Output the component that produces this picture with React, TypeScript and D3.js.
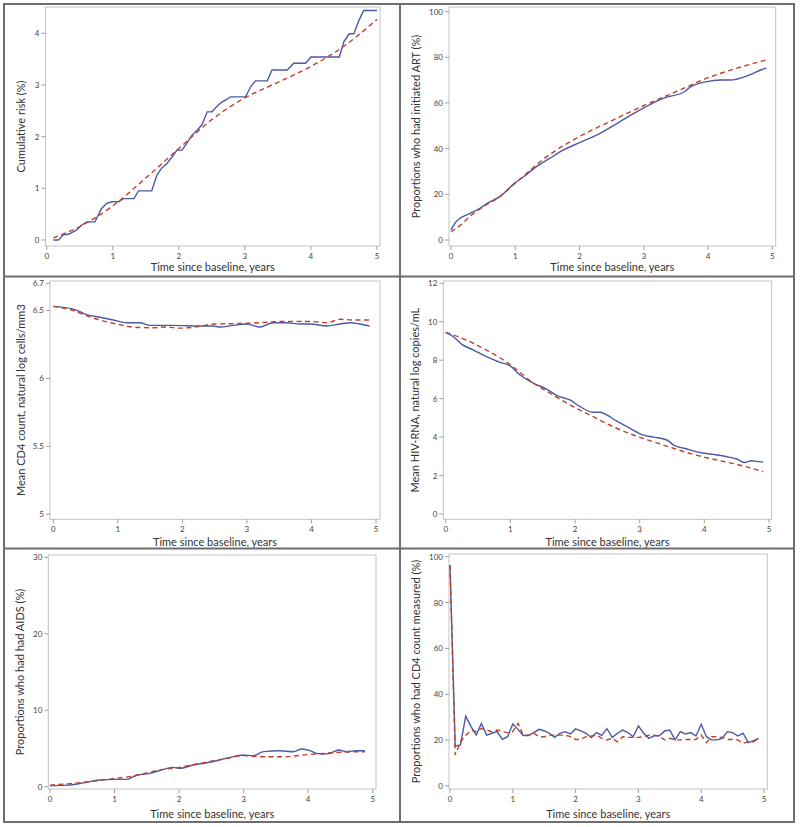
import React from "react";
import * as d3 from "d3";

// ---------- DATA ----------
const xTicks = [0, 1, 2, 3, 4, 5];
const xLabel = "Time since baseline, years";

// Panel 1: cumulative risk
const riskTimeObs = [0.1,0.18,0.25,0.33,0.45,0.53,0.61,0.73,0.83,0.91,0.99,1.09,1.16,1.32,1.39,1.59,1.67,1.74,1.82,1.9,1.97,2.05,2.12,2.2,2.28,2.35,2.43,2.5,2.55,2.63,2.71,2.78,3.01,3.09,3.16,3.34,3.41,3.64,3.74,3.92,4.0,4.43,4.5,4.58,4.65,4.73,4.8,5.0];
const riskObs = [0,0,0.1,0.11,0.19,0.29,0.35,0.35,0.61,0.71,0.74,0.74,0.8,0.8,0.95,0.95,1.26,1.39,1.48,1.61,1.74,1.74,1.87,2.03,2.13,2.23,2.48,2.48,2.55,2.65,2.71,2.77,2.77,2.97,3.08,3.08,3.29,3.29,3.42,3.42,3.54,3.54,3.84,3.99,3.99,4.26,4.44,4.44];
const riskTimeSim = [0.1,0.5,1,1.5,2,2.5,3,3.5,4,4.5,5];
const riskSim = [0.04,0.26,0.66,1.2,1.77,2.33,2.75,3.05,3.36,3.75,4.27];
const riskTicks = [0, 1, 2, 3, 4];

// Panel 2: initiated ART
const artTimeObs = [0,0.06,0.14,0.3,0.45,0.61,0.76,1.0,1.13,1.33,1.54,1.75,2.0,2.32,2.63,2.94,3.3,3.64,3.72,3.98,4.19,4.34,4.65,4.83,4.91];
const artObs = [4.4,7.3,9.5,11.7,13.9,16.8,19,25.1,27.7,32.1,35.8,39.4,42.6,46.7,51.8,56.9,62,65,66.9,69.3,70,70,72.3,74.5,75.2];
const artTimeSim = [0,0.15,0.3,0.5,0.76,1.0,1.49,2.0,2.53,3.02,3.51,3.98,4.45,4.91];
const artSim = [3.6,6.5,10.5,14.5,19,24.8,36.5,45.3,52.6,59.1,65,70.8,75.2,78.8];
const artTicks = [0, 20, 40, 60, 80, 100];

// Panel 3: mean CD4
const cd4TimeObs = [0,0.31,0.52,0.72,0.93,1.14,1.34,1.5,1.86,2.27,2.48,2.58,2.79,3.0,3.2,3.41,3.62,3.82,3.98,4.24,4.44,4.6,4.75,4.9];
const cd4Obs = [6.53,6.51,6.47,6.45,6.43,6.41,6.41,6.39,6.39,6.386,6.386,6.378,6.39,6.4,6.378,6.41,6.41,6.4,6.4,6.386,6.4,6.41,6.4,6.386];
const cd4TimeSim = [0,0.31,0.52,0.72,0.98,1.24,1.5,1.76,1.96,2.27,2.48,2.79,3.2,3.62,4.03,4.24,4.44,4.65,4.9];
const cd4Sim = [6.53,6.5,6.46,6.43,6.4,6.378,6.373,6.378,6.37,6.383,6.4,6.403,6.41,6.42,6.418,6.41,6.435,6.43,6.43];
const cd4Ticks = [5, 5.5, 6, 6.5, 6.7];

// Panel 4: mean HIV-RNA
const rnaTimeObs = [0,0.12,0.25,0.43,0.63,0.84,0.99,1.15,1.36,1.56,1.72,1.92,2.08,2.28,2.39,2.49,2.64,2.85,3.06,3.21,3.42,3.52,3.73,3.93,4.14,4.35,4.5,4.62,4.73,4.81,4.91];
const rnaObs = [9.45,9.22,8.82,8.53,8.18,7.89,7.72,7.23,6.8,6.5,6.16,5.93,5.58,5.29,5.29,5.15,4.84,4.46,4.1,4.0,3.85,3.6,3.38,3.2,3.1,2.98,2.86,2.68,2.77,2.74,2.7];
const rnaTimeSim = [0,0.32,0.63,0.99,1.36,1.66,1.97,2.28,2.59,2.9,3.21,3.52,3.83,4.14,4.45,4.71,4.91];
const rnaSim = [9.45,9.05,8.53,7.79,6.8,6.19,5.58,5.06,4.54,4.11,3.76,3.42,3.1,2.85,2.62,2.4,2.2];
const rnaTicks = [0, 2, 4, 6, 8, 10, 12];

// Panel 5: AIDS
const aidsTimeObs = [0,0.26,0.52,0.77,0.98,1.19,1.34,1.55,1.76,1.91,2.01,2.22,2.43,2.58,2.79,3.0,3.15,3.31,3.56,3.77,3.9,4.03,4.13,4.24,4.34,4.47,4.6,4.75,4.88];
const aidsObs = [0.13,0.2,0.5,0.87,0.96,0.96,1.5,1.74,2.27,2.53,2.4,2.83,3.14,3.4,3.84,4.14,4.06,4.58,4.71,4.58,4.93,4.71,4.36,4.27,4.36,4.8,4.58,4.71,4.71];
const aidsTimeSim = [0,0.52,0.98,1.29,1.7,2.01,2.32,2.74,3.0,3.26,3.62,3.98,4.24,4.39,4.6,4.88];
const aidsSim = [0.2,0.57,1.05,1.4,2.18,2.53,3.05,3.7,4.06,3.92,3.92,4.19,4.36,4.45,4.54,4.58];
const aidsTicks = [0, 10, 20, 30];

// Panel 6: CD4 measured (monthly, t = month / 12)
const measMonths = d3.range(0, 60);
const measObs = [96.4,17.4,17.9,30.5,26,22.2,27.3,22.2,23,23.7,20.3,21.5,27,24.7,22,22,23.3,24.7,24.1,23,21.2,23,23.7,22.7,24.9,24,23,21.1,23.3,22.1,25,21.2,23,24.4,23.3,21.5,26.2,23,20.8,21.9,21.9,24,24.4,20.1,23.7,22.7,23.3,21.8,26.9,21.5,20.1,20.1,20.8,23.7,23.3,21.8,23,18.9,19.8,20.8];
const measSim = [96.4,13.5,19.3,22,24.4,23.7,25.1,24.4,23.7,24.4,23.7,23.3,23.7,27.3,22.2,22.2,23,21.5,21.5,22.1,22.2,22.2,22.2,21.5,20.3,20.3,21.5,21.8,22.2,20.8,20.1,20.8,19.3,21.5,21.2,21.2,21.2,21.5,22.2,22.2,21.8,20.1,20.8,20.1,20.1,20.3,20.3,20.3,22.2,18.9,21.5,21.5,21.2,20.3,20.3,20.1,18.6,19.3,19.3,20.8];
const measTicks = [0, 20, 40, 60, 80, 100];

// ---------- LAYOUT ----------
type Series = { t: number[]; v: number[] };
type PanelSpec = {
  frame: [number, number, number, number];
  x0: number; x5: number;
  yDom: [number, number]; yRng: [number, number];
  yTicks: number[]; yLabel: string; yLabelX: number; xLabelY: number;
  obs: Series; sim: Series; obsCurve?: any; simCurve?: any;
};

const panels: PanelSpec[] = [
  { frame: [45.5, 7, 380, 246], x0: 46.7, x5: 377, yDom: [0, 4], yRng: [240, 33.3], yTicks: riskTicks,
    yLabel: "Cumulative risk (%)", yLabelX: 21.5, xLabelY: 271,
    obs: { t: riskTimeObs, v: riskObs }, sim: { t: riskTimeSim, v: riskSim }, obsCurve: d3.curveLinear },
  { frame: [449, 7, 775.7, 246], x0: 451, x5: 772.3, yDom: [0, 100], yRng: [240, 11.5], yTicks: artTicks,
    yLabel: "Proportions who had initiated ART (%)", yLabelX: 416.5, xLabelY: 271,
    obs: { t: artTimeObs, v: artObs }, sim: { t: artTimeSim, v: artSim } },
  { frame: [50, 281, 380, 519.3], x0: 53.3, x5: 376, yDom: [5, 6.7], yRng: [514.3, 283.3], yTicks: cd4Ticks,
    yLabel: "Mean CD4 count, natural log cells/mm3", yLabelX: 21.5, xLabelY: 545.5,
    obs: { t: cd4TimeObs, v: cd4Obs }, sim: { t: cd4TimeSim, v: cd4Sim } },
  { frame: [443.3, 281, 771.7, 519.3], x0: 445.7, x5: 769, yDom: [0, 12], yRng: [514, 283.3], yTicks: rnaTicks,
    yLabel: "Mean HIV-RNA, natural log copies/mL", yLabelX: 415.5, xLabelY: 545.5,
    obs: { t: rnaTimeObs, v: rnaObs }, sim: { t: rnaTimeSim, v: rnaSim } },
  { frame: [48.3, 555, 376, 789], x0: 50, x5: 372.7, yDom: [0, 30], yRng: [786.7, 557.3], yTicks: aidsTicks,
    yLabel: "Proportions who had had AIDS (%)", yLabelX: 20.5, xLabelY: 818,
    obs: { t: aidsTimeObs, v: aidsObs }, sim: { t: aidsTimeSim, v: aidsSim } },
  { frame: [449, 554, 767.3, 789], x0: 450, x5: 764, yDom: [0, 100], yRng: [786, 556.7], yTicks: measTicks,
    yLabel: "Proportions who had CD4 count measured (%)", yLabelX: 416, xLabelY: 818,
    obs: { t: measMonths.map((m) => m / 12), v: measObs }, sim: { t: measMonths.map((m) => m / 12), v: measSim },
    obsCurve: d3.curveLinear, simCurve: d3.curveLinear },
];

const FONT = "Lato, 'Open Sans', sans-serif";
const BLUE = "#4a5aa6";
const RED = "#c0402a";

function Panel({ p }: { p: PanelSpec }) {
  const [fx0, fy0, fx1, fy1] = p.frame;
  const x = d3.scaleLinear().domain([0, 5]).range([p.x0, p.x5]);
  const y = d3.scaleLinear().domain(p.yDom).range(p.yRng);
  const mk = (s: Series, curve: any) =>
    d3.line<number>().x((_, i) => x(s.t[i])).y((d) => y(d)).curve(curve || d3.curveMonotoneX)(s.v) || "";
  return (
    <g>
      <rect x={fx0} y={fy0} width={fx1 - fx0} height={fy1 - fy0} fill="white" stroke="#c4c4c4" strokeWidth={1} />
      {xTicks.map((t) => (
        <g key={"x" + t}>
          <line x1={x(t)} x2={x(t)} y1={fy1} y2={fy1 + 4} stroke="#888" strokeWidth={0.8} />
          <text x={x(t)} y={fy1 + 13} textAnchor="middle" fontSize={8} fill="#444" fontFamily={FONT}>{t}</text>
        </g>
      ))}
      {p.yTicks.map((t) => (
        <g key={"y" + t}>
          <line x1={fx0 - 4} x2={fx0} y1={y(t)} y2={y(t)} stroke="#888" strokeWidth={0.8} />
          <text x={fx0 - 6} y={y(t) + 3} textAnchor="end" fontSize={8} fill="#444" fontFamily={FONT}>{String(t)}</text>
        </g>
      ))}
      <path d={mk(p.obs, p.obsCurve)} fill="none" stroke={BLUE} strokeWidth={1.4} />
      <path d={mk(p.sim, p.simCurve)} fill="none" stroke={RED} strokeWidth={1.4} strokeDasharray="5,3.5" />
      <text x={(fx0 + fx1) / 2} y={p.xLabelY} textAnchor="middle" fontSize={11} fill="#333" fontFamily={FONT}>{xLabel}</text>
      <text transform={`translate(${p.yLabelX},${(fy0 + fy1) / 2}) rotate(-90)`} dy="0.35em" textAnchor="middle"
        fontSize={11} fill="#333" fontFamily={FONT}>{p.yLabel}</text>
    </g>
  );
}

export default function App() {
  return (
    <div style={{ position: "absolute", left: 0, top: 0 }}>
      <svg width={800} height={827} style={{ display: "block", background: "white" }}>
        {panels.map((p, i) => <Panel key={i} p={p} />)}
        <rect x={4} y={4} width={790} height={818} fill="none" stroke="#6e6e6e" strokeWidth={2} />
        <line x1={400} x2={400} y1={4} y2={822} stroke="#6e6e6e" strokeWidth={2} />
        <line x1={4} x2={794} y1={276.5} y2={276.5} stroke="#6e6e6e" strokeWidth={2} />
        <line x1={4} x2={794} y1={548.5} y2={548.5} stroke="#6e6e6e" strokeWidth={2} />
      </svg>
    </div>
  );
}
